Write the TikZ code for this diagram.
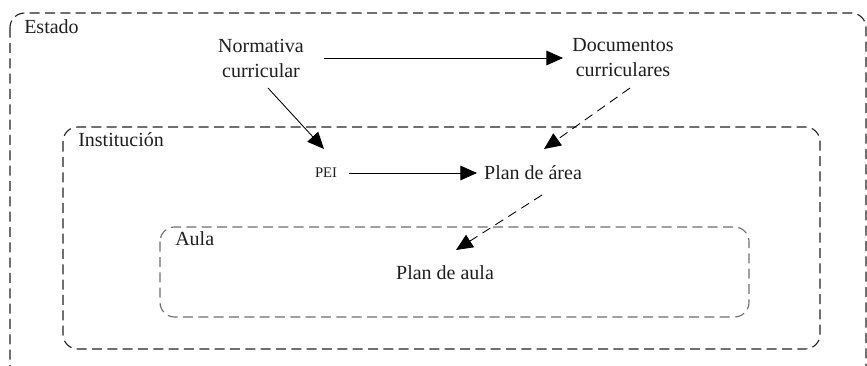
\documentclass[tikz,border=0pt]{standalone}
\usepackage{fontspec}
\setmainfont{Liberation Serif}
\usetikzlibrary{arrows.meta,calc}

\definecolor{boxgray}{RGB}{35,35,35}
\definecolor{aulagray}{RGB}{110,110,110}
\definecolor{txtgray}{RGB}{30,30,30}

\tikzset{
  frame/.style={boxgray, line width=0.85pt, dash pattern=on 7.5pt off 4pt, rounded corners=11pt},
  txt/.style={inner sep=3pt, align=center, text=txtgray, font=\fontsize{15}{18.75}\selectfont},
  arr/.style={line width=0.65pt, -{Triangle[length=12.5pt,width=11pt]}},
  darr/.style={arr, dash pattern=on 7pt off 4.5pt}
}

\begin{document}
\begin{tikzpicture}[x=0.75pt, y=-0.75pt]
\useasboundingbox (0,0) rectangle (867,366);

% draw boxes
\begin{scope}
\clip (0,0) rectangle (867,366);
\draw[frame] (10,13) rectangle (866,400);
\end{scope}
\draw[frame] (63,127) rectangle (820,349);
\draw[frame, aulagray] (160,227) rectangle (749,317);

% box labels
\node[txt, anchor=west] (estado) at (20,27) {Estado};
\node[txt, anchor=west] (inst) at (74,140) {Institución};
\node[txt, anchor=west] (aula) at (171,239) {Aula};

% draw nodes
\node[txt] (norm) at (261,58) {Normativa\\curricular};
\node[txt] (docs) at (623,58) {Documentos\\curriculares};
\node[txt, font=\fontsize{11}{12}\selectfont] (pei) at (326,173) {PEI};
\node[txt] (area) at (533,173) {Plan de área};
\node[txt] (plan) at (445,273) {Plan de aula};

% draw arrows
\draw[arr] ($(norm)+(63,0)$) -- ($(docs)+(-60,0)$);
\draw[arr] ($(norm)+(7,30)$) -- ($(pei)+(-2,-24)$);
\draw[darr] ($(docs)+(7,30)$) -- ($(area)+(11,-24)$);
\draw[arr] ($(pei)+(23,0)$) -- ($(area)+(-56,0)$);
\draw[darr] ($(area)+(9,22)$) -- ($(plan)+(11,-23)$);

\end{tikzpicture}
\end{document}
